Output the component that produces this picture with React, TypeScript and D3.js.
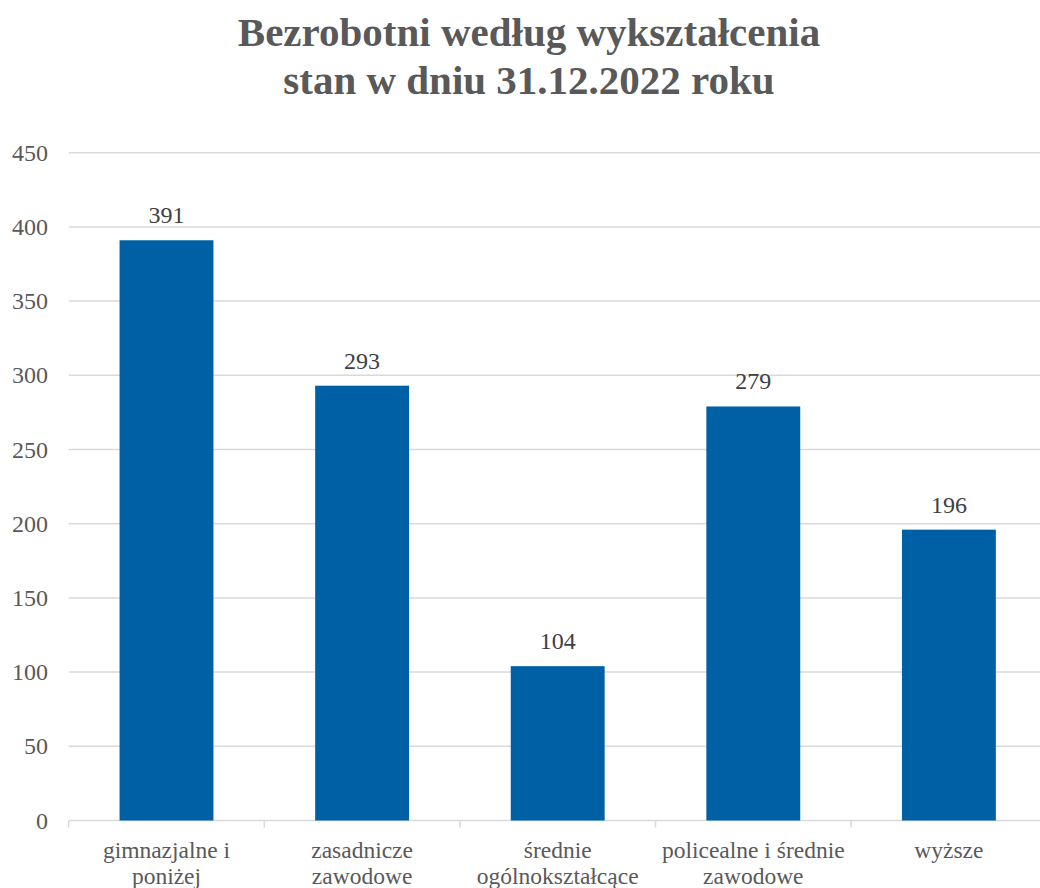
import React from "react";
import * as d3 from "d3";

const categories: string[][] = [
  ["gimnazjalne i", "poniżej"],
  ["zasadnicze", "zawodowe"],
  ["średnie", "ogólnokształcące"],
  ["policealne i średnie", "zawodowe"],
  ["wyższe"],
];
const values: number[] = [391, 293, 104, 279, 196];
const yTicks: number[] = [0, 50, 100, 150, 200, 250, 300, 350, 400, 450];
const titleLines: string[] = ["Bezrobotni według wykształcenia", "stan w dniu 31.12.2022 roku"];

const W = 1040;
const H = 888;
const left = 68.7;
const bandW = 195.6;
const top = 152.7;
const bottom = 820.5;

export default function App() {
  const x = d3
    .scaleBand<number>()
    .domain(values.map((_, i) => i))
    .range([left, left + bandW * values.length])
    .paddingInner(0.52)
    .paddingOuter(0.26);
  const y = d3.scaleLinear().domain([0, 450]).range([bottom, top]);
  const font = '"Liberation Serif", "Times New Roman", Tinos, "DejaVu Serif", serif';
  return (
    <svg width={W} height={H} style={{ position: "absolute", left: 0, top: 0, fontFamily: font }}>
      <rect width={W} height={H} fill="#fff" />
      {titleLines.map((t, i) => (
        <text key={i} x={529} y={46 + i * 48} textAnchor="middle" fontSize={41} fontWeight="bold" fill="#595959" style={{ fontFamily: font }}>
          {t}
        </text>
      ))}
      {yTicks.map((t) => (
        <g key={t}>
          {t > 0 && (
            <line x1={left} x2={W} y1={y(t)} y2={y(t)} stroke="#d9d9d9" strokeWidth={1.5} />
          )}
          <text x={48} y={y(t) + 8} textAnchor="end" fontSize={24} fill="#595959" style={{ fontFamily: font }}>
            {t}
          </text>
        </g>
      ))}
      <line x1={left} x2={W} y1={bottom} y2={bottom} stroke="#d9d9d9" strokeWidth={1.5} />
      {d3.range(values.length + 1).map((i) => (
        <line key={i} x1={left + i * bandW} x2={left + i * bandW} y1={bottom} y2={bottom + 7} stroke="#d9d9d9" strokeWidth={1.5} />
      ))}
      {values.map((v, i) => (
        <g key={i}>
          <rect x={x(i)!} y={y(v)} width={x.bandwidth()} height={bottom - y(v)} fill="#0060a6" />
          <text x={x(i)! + x.bandwidth() / 2} y={y(v) - 17} textAnchor="middle" fontSize={24} fill="#404040" style={{ fontFamily: font }}>
            {v}
          </text>
          {categories[i].map((l, j) => (
            <text key={j} x={x(i)! + x.bandwidth() / 2} y={858 + j * 25.5} textAnchor="middle" fontSize={23.5} fill="#595959" style={{ fontFamily: font }}>
              {l}
            </text>
          ))}
        </g>
      ))}
    </svg>
  );
}
